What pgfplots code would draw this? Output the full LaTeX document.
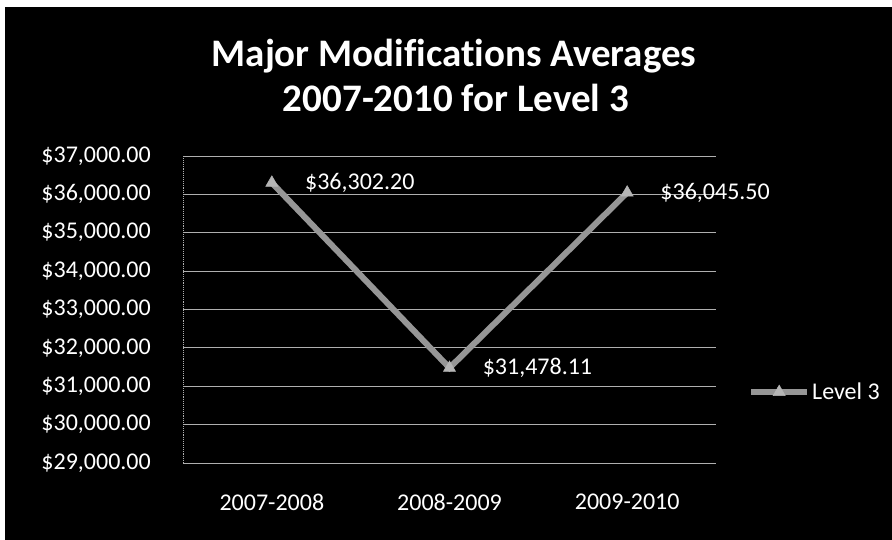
\documentclass[border=0pt]{standalone}
\usepackage{pgfplots}
\pgfplotsset{compat=1.18}
\usepackage{fontspec}
\setmainfont{Carlito}[Ligatures=NoCommon]
\definecolor{linegray}{RGB}{150,150,150}
\definecolor{gridgray}{RGB}{175,175,175}
\begin{document}
\begin{tikzpicture}
\fill[white] (0pt,0pt) rectangle (892pt,540pt);
\fill[black] (5pt,0pt) rectangle (892pt,533pt);
\node[anchor=base, text=white, font=\fontsize{39}{44}\selectfont\bfseries] at (454pt,473pt) {Major Modifications Averages};
\node[anchor=base, text=white, font=\fontsize{39}{44}\selectfont\bfseries] at (456pt,428pt) {2007-2010 for Level 3};
\begin{axis}[
  at={(183pt,77pt)}, anchor=south west,
  scale only axis, width=533pt, height=307pt,
  xmin=-0.5, xmax=2.5, ymin=29000, ymax=37000,
  scaled y ticks=false,
  xtick={0,1,2},
  xticklabels={2007-2008,2008-2009,2009-2010},
  ytick={29000,30000,31000,32000,33000,34000,35000,36000,37000},
  yticklabels={{\$29,000.00},{\$30,000.00},{\$31,000.00},{\$32,000.00},{\$33,000.00},{\$34,000.00},{\$35,000.00},{\$36,000.00},{\$37,000.00}},
  major tick length=0pt,
  ymajorgrids,
  major grid style={gridgray, line width=0.9pt},
  axis x line*=bottom, axis y line*=left,
  axis line style={-, gridgray, line width=0.9pt, densely dotted},
  tick label style={text=white, font=\fontsize{24}{28}\selectfont, inner sep=0pt},
  yticklabel style={xshift=-32pt},
  xticklabel style={yshift=-31pt},
  clip=false,
  legend style={draw=none, fill=none, at={(1.06,0.231)}, anchor=west, inner sep=0pt,
    font=\fontsize{24}{28}\selectfont, text=white},
  legend image code/.code={\draw[#1, mark=none] (0pt,0pt) -- (56pt,0pt);
    \draw[#1, only marks] plot coordinates {(28pt,0pt)};},
  legend cell align=left,
  point meta=explicit symbolic,
  nodes near coords,
  nodes near coords align={horizontal},
  every node near coord/.append style={anchor=west, xshift=33pt, text=white, inner sep=0pt,
    font=\fontsize{24}{28}\selectfont},
]
\addplot[linegray, line width=6pt, mark=triangle*, mark size=7pt,
  mark options={fill=linegray!70!white, draw=linegray!70!white, line width=0.5pt}]
  coordinates {
  (0,36302.20) [\$36,302.20]
  (1,31478.11) [\$31,478.11]
  (2,36045.50) [\$36,045.50]
};
\addlegendentry{Level 3}
\end{axis}
\end{tikzpicture}
\end{document}
